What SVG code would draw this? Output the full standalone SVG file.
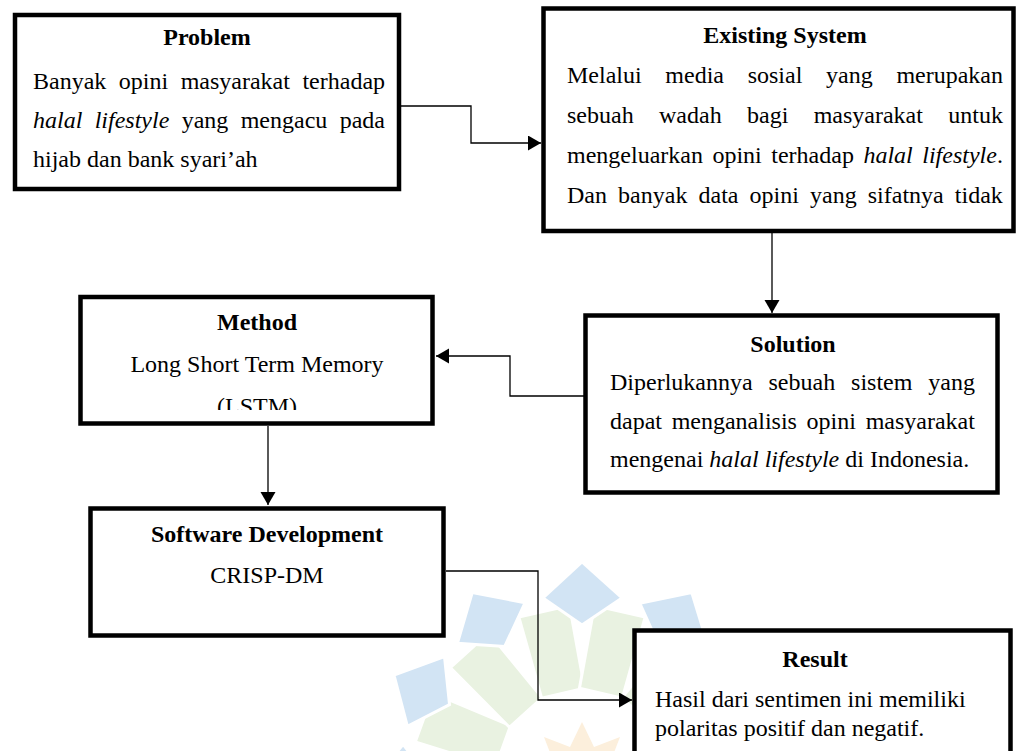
<svg xmlns="http://www.w3.org/2000/svg" width="1016" height="751" viewBox="0 0 1016 751">
<style>
text{font-family:"Liberation Serif","Times New Roman",serif;font-size:24px;fill:#000}
.t{font-weight:bold;text-anchor:middle}
.c{text-anchor:middle}
.i{font-style:italic}
.box{fill:#fff;stroke:#000;stroke-width:4.5}
.con{fill:none;stroke:#000;stroke-width:1.3}
.bl{fill:#d2e4f4;stroke:#fff;stroke-width:3}
.gr{fill:#e9f2e1;stroke:#fff;stroke-width:3}
</style>
<defs>
<marker id="ah" markerUnits="userSpaceOnUse" markerWidth="14" markerHeight="16" refX="13" refY="7.5" orient="auto">
<path d="M0,0 L13,7.5 L0,15 z" fill="#000"/>
</marker>
<clipPath id="mclip"><rect x="83" y="299" width="347" height="111"/></clipPath>
<polygon id="gp" points="-26,-168 26,-168 22,-84 -22,-84"/>
<polygon id="bp" points="0,-213 40,-177 0,-150 -39,-177"/>
</defs>
<g id="watermark" transform="translate(582,775)">
<use href="#gp" class="gr" transform="rotate(-70)"/>
<use href="#gp" class="gr" transform="rotate(-42)"/>
<use href="#gp" class="gr" transform="rotate(-13)"/>
<use href="#gp" class="gr" transform="rotate(13)"/>
<use href="#gp" class="gr" transform="rotate(42)"/>
<use href="#gp" class="gr" transform="rotate(70)"/>
<use href="#bp" class="bl" transform="rotate(-93)"/>
<use href="#bp" class="bl" transform="rotate(-62)"/>
<use href="#bp" class="bl" transform="rotate(-31)"/>
<use href="#bp" class="bl"/>
<use href="#bp" class="bl" transform="rotate(31)"/>
<use href="#bp" class="bl" transform="rotate(62)"/>
<use href="#bp" class="bl" transform="rotate(93)"/>
<polygon points="0,-53 12,-28 38,-38 28,-12 53,0 28,12 38,38 12,28 0,53 -12,28 -38,38 -28,12 -53,0 -28,-12 -38,-38 -12,-28" fill="#fcefdc"/>
</g>
<g id="connectors">
<path class="con" d="M401,106 H471 V143 H541" marker-end="url(#ah)"/>
<path class="con" d="M772,233 V313" marker-end="url(#ah)"/>
<path class="con" d="M584,396 H510 V356 H436" marker-end="url(#ah)"/>
<path class="con" d="M268,426 V505" marker-end="url(#ah)"/>
<path class="con" d="M446,571 H538 V700 H632" marker-end="url(#ah)"/>
</g>
<g id="problem">
<rect class="box" x="15" y="15" width="384" height="174"/>
<text class="t" x="207" y="45">Problem</text>
<text x="33" y="89" word-spacing="6.5">Banyak opini masyarakat terhadap</text>
<text x="33" y="128" word-spacing="6.35"><tspan class="i">halal lifestyle</tspan> yang mengacu pada</text>
<text x="33" y="167">hijab dan bank syari’ah</text>
</g>
<g id="existing">
<rect class="box" x="543.5" y="8.5" width="470" height="222.5"/>
<text class="t" x="785" y="43">Existing System</text>
<text x="567" y="83" word-spacing="17.7">Melalui media sosial yang merupakan</text>
<text x="567" y="123" word-spacing="19.35">sebuah wadah bagi masyarakat untuk</text>
<text x="567" y="163" word-spacing="3.5">mengeluarkan opini terhadap <tspan class="i">halal lifestyle</tspan>.</text>
<text x="567" y="203" word-spacing="5.1">Dan banyak data opini yang sifatnya tidak</text>
</g>
<g id="solution">
<rect class="box" x="585.5" y="315.5" width="412" height="177"/>
<text class="t" x="793" y="352">Solution</text>
<text x="610" y="390" word-spacing="9.9">Diperlukannya sebuah sistem yang</text>
<text x="610" y="429" word-spacing="3.67">dapat menganalisis opini masyarakat</text>
<text x="610" y="467">mengenai <tspan class="i">halal lifestyle</tspan> di Indonesia.</text>
</g>
<g id="method">
<rect class="box" x="80.5" y="297" width="352" height="126.5"/>
<text class="t" x="257" y="330">Method</text>
<text class="c" x="257" y="372">Long Short Term Memory</text>
<text class="c" x="257" y="414" clip-path="url(#mclip)">(LSTM)</text>
</g>
<g id="software">
<rect class="box" x="90.5" y="508.5" width="353" height="127"/>
<text class="t" x="267" y="542">Software Development</text>
<text class="c" x="267" y="583">CRISP-DM</text>
</g>
<g id="result">
<rect class="box" x="634.5" y="630.5" width="376" height="130"/>
<text class="t" x="815" y="667">Result</text>
<text x="655" y="707">Hasil dari sentimen ini memiliki</text>
<text x="655" y="736">polaritas positif dan negatif.</text>
</g>
</svg>
